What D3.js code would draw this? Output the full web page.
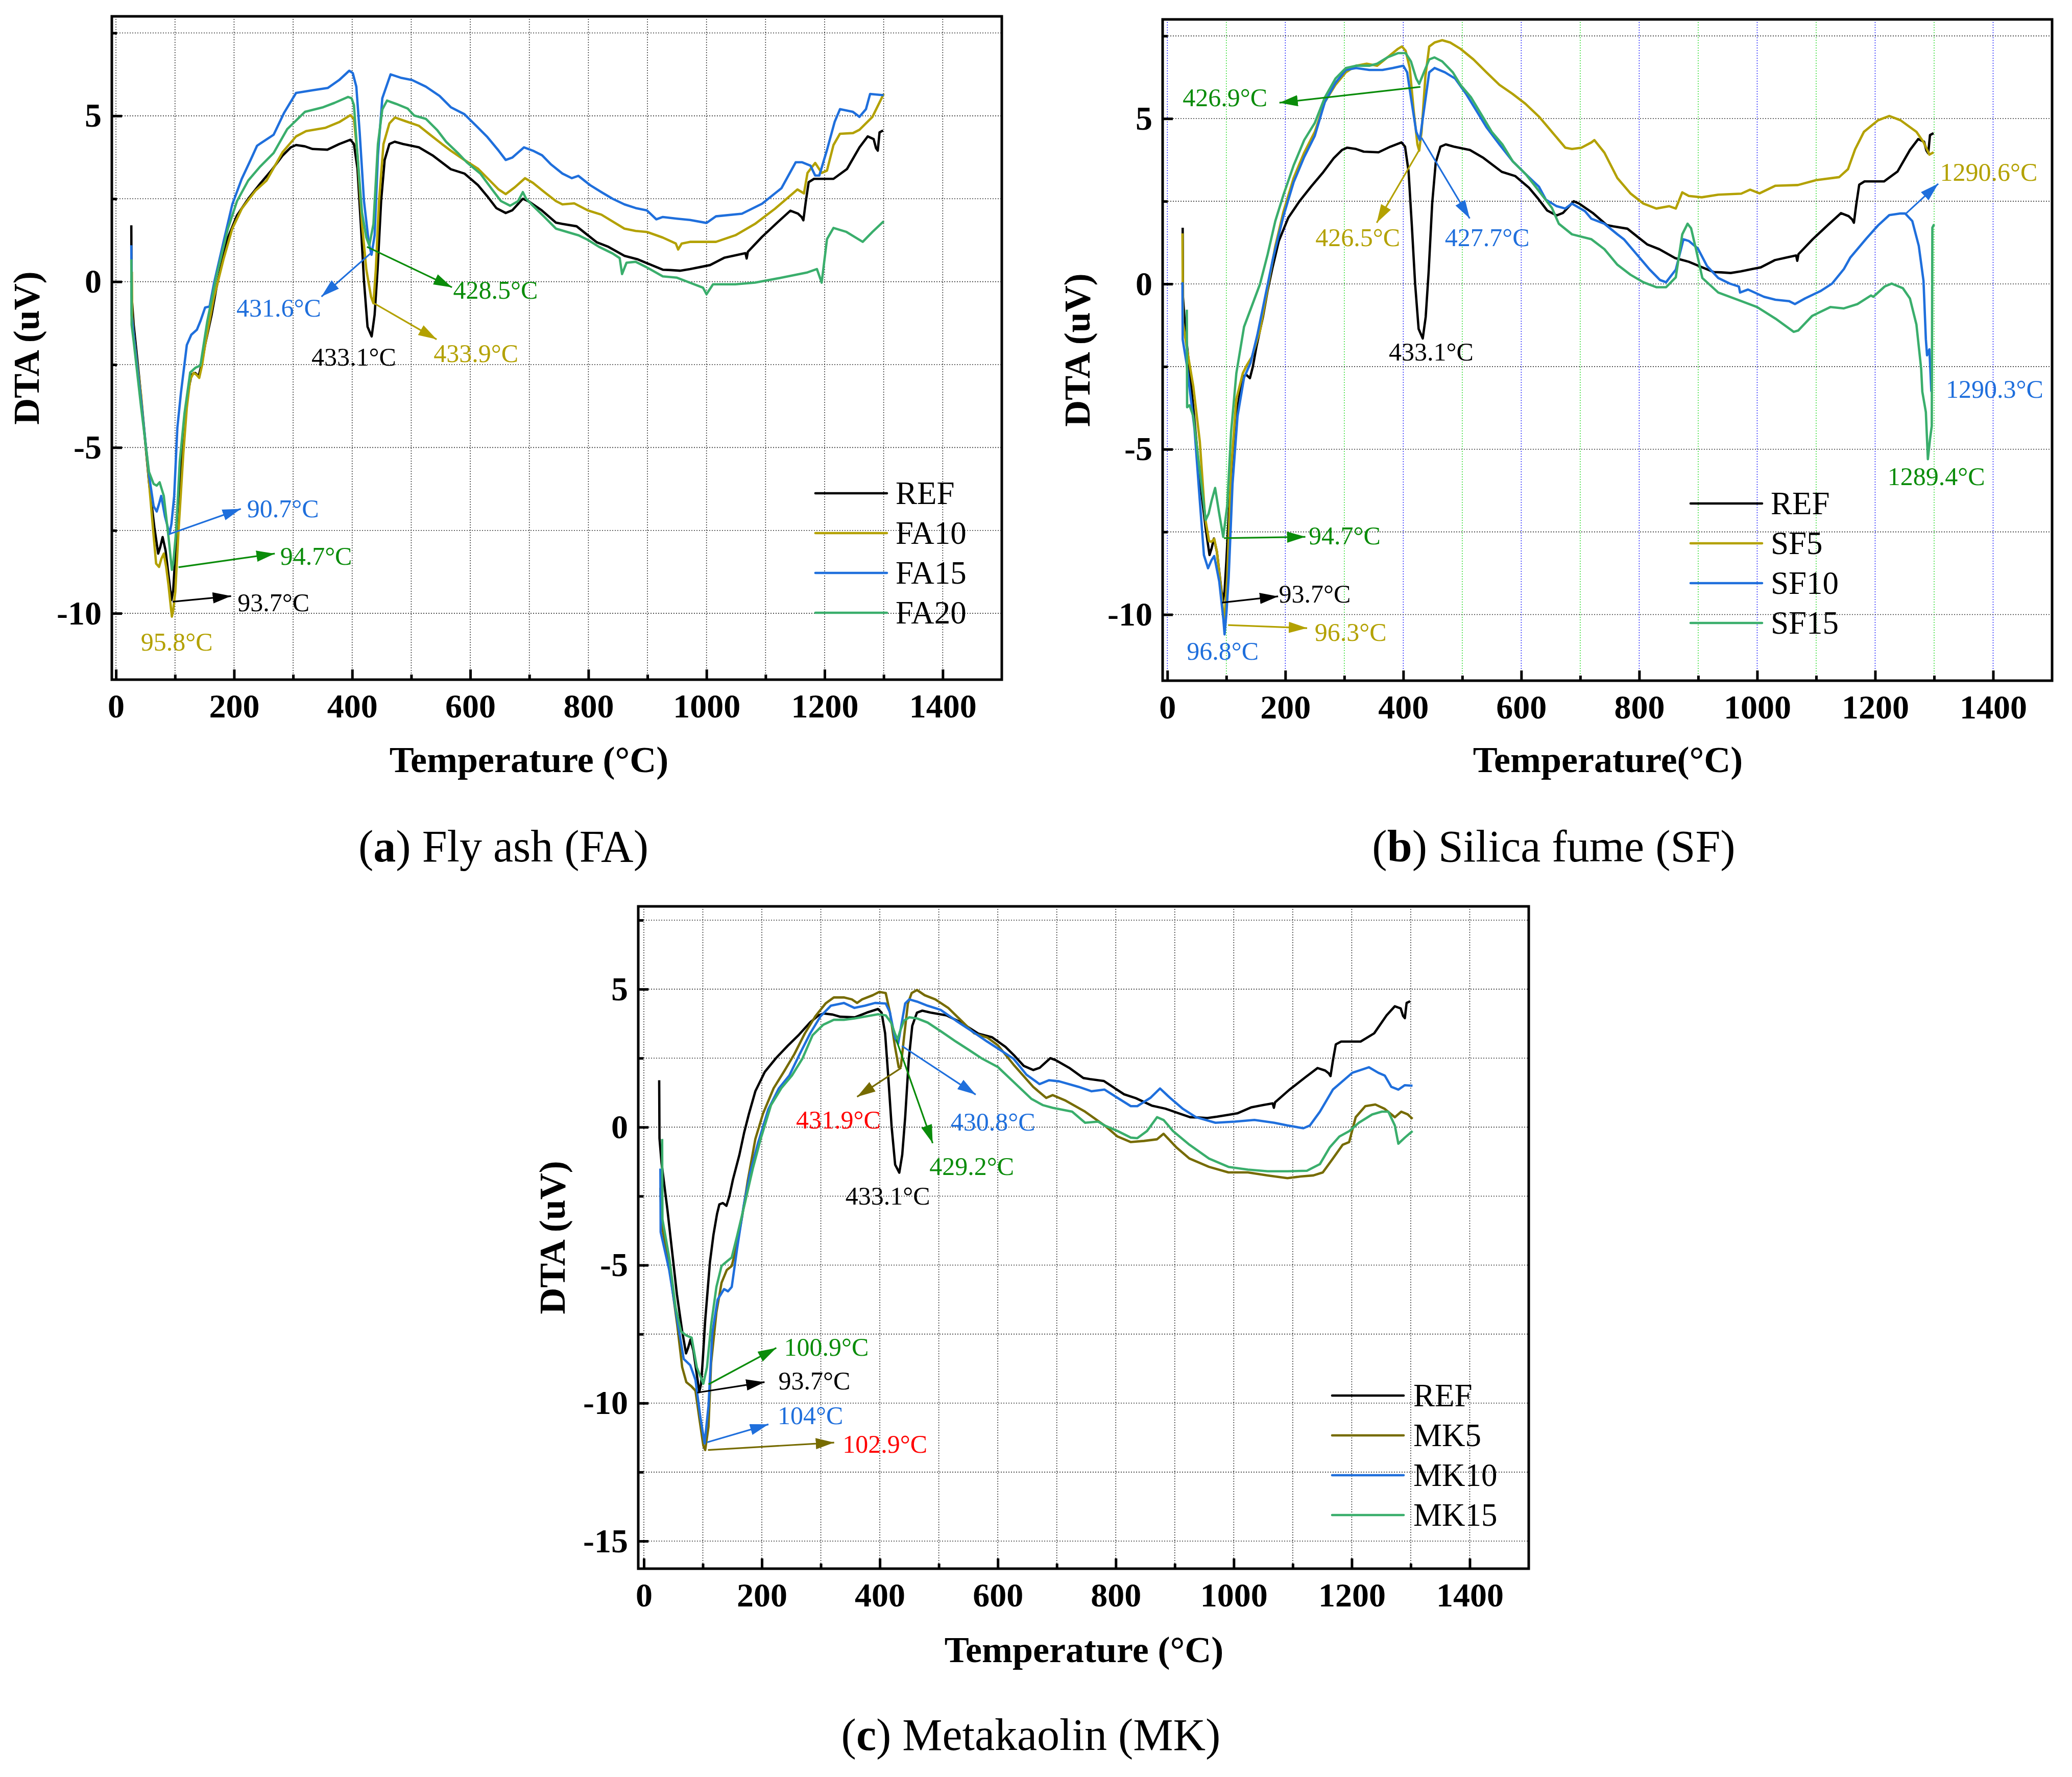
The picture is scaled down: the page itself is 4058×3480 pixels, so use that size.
<!DOCTYPE html>
<html><head><meta charset="utf-8">
<script src="https://cdn.jsdelivr.net/npm/d3@7"></script>
<style>body{margin:0;background:#fff} svg{display:block}</style>
</head><body>
<script>
// ---------------- data ----------------
const xTicks = [0,200,400,600,800,1000,1200,1400];
const xMinorTicks = [100,300,500,700,900,1100,1300];
const yTicksAB = [5,0,-5,-10];
const yTicksC = [5,0,-5,-10,-15];

const REF = [[26,1.7],[26.5,-0.4],[30,-1.3],[40,-3.0],[56,-6.05],[65,-7.4],[71.5,-8.2],[75,-8.0],[79,-7.7],[84,-8.1],[90,-9.0],[94,-9.6],[97,-9.3],[100,-8.4],[104,-7.0],[112,-4.9],[118,-3.9],[124,-3.15],[128,-2.8],[134,-2.75],[140,-2.85],[145,-2.5],[151,-1.9],[162,-1.0],[170,-0.2],[178,0.47],[189,1.3],[205,2.0],[224,2.5],[244,2.95],[263,3.35],[282,3.8],[296,4.05],[305,4.12],[320,4.08],[333,4.0],[358,3.98],[378,4.15],[397,4.28],[403,4.15],[409,3.4],[414.6,1.74],[420,0.02],[426,-1.36],[433,-1.65],[438,-1.0],[443,0.36],[449,2.43],[455,3.67],[463,4.15],[472,4.22],[486,4.15],[513,4.05],[536,3.81],[567,3.39],[590,3.26],[613,2.91],[629,2.57],[644,2.22],[660,2.07],[671,2.15],[689,2.5],[698,2.43],[721,2.15],[745,1.78],[756,1.74],[780,1.67],[799,1.4],[814,1.19],[834,1.05],[861,0.78],[884,0.67],[907,0.5],[926,0.36],[939,0.35],[955,0.33],[972,0.38],[992,0.45],[1006,0.5],[1030,0.72],[1050,0.8],[1066,0.86],[1068,0.7],[1070,0.9],[1094,1.35],[1121,1.8],[1142,2.14],[1155,2.05],[1161,1.95],[1164,1.85],[1168,2.4],[1173,3.0],[1182,3.1],[1215,3.1],[1238,3.4],[1259,4.05],[1273,4.38],[1283,4.3],[1287,4.03],[1290,3.95],[1293,4.5],[1299,4.56]];

const FA10 = [[27,0.3],[27.5,-1.0],[30,-1.6],[42.5,-3.4],[56,-6.05],[63,-7.5],[68,-8.5],[73,-8.6],[77,-8.35],[81,-8.2],[85,-8.6],[89,-9.15],[94.7,-10.1],[97,-9.9],[100.5,-9.35],[106,-7.5],[114,-5.2],[120,-3.8],[125.7,-2.95],[131.5,-2.75],[136,-2.8],[141,-2.9],[146,-2.5],[151,-1.9],[166,-0.47],[182,0.67],[197,1.6],[213,2.2],[236,2.74],[255,3.05],[282,3.9],[305,4.38],[322,4.54],[355,4.64],[378,4.81],[397,5.02],[403,4.91],[409,3.81],[416.6,1.74],[424,0.36],[432,-0.46],[436,-0.65],[440,0.36],[445.5,2.43],[453,4.15],[463,4.77],[472.5,4.95],[490,4.84],[513,4.7],[532,4.43],[552,4.15],[567,3.95],[590,3.67],[613.5,3.4],[633,3.05],[648,2.78],[660,2.64],[675,2.84],[692.7,3.12],[706,2.98],[725.5,2.7],[745,2.43],[756,2.33],[776,2.36],[799,2.15],[822,2.02],[861,1.6],[880,1.53],[899,1.5],[926,1.33],[948,1.15],[952,0.97],[958,1.15],[972,1.2],[1016,1.2],[1049,1.4],[1082,1.74],[1116,2.2],[1154,2.78],[1165,2.66],[1171,3.28],[1184,3.58],[1195,3.28],[1204,3.35],[1215,4.12],[1226,4.46],[1248,4.48],[1259,4.58],[1281,4.97],[1300,5.66]];

const FA15 = [[26,1.1],[26.5,-1.0],[30,-1.6],[42.5,-3.57],[56,-5.84],[63.8,-6.77],[69,-6.93],[73,-6.7],[76.6,-6.46],[83,-7.08],[90.7,-7.6],[94,-7.3],[98.6,-6.46],[104,-4.4],[110,-3.36],[120,-1.91],[127.6,-1.6],[137,-1.45],[143,-1.19],[151,-0.78],[158.5,-0.75],[166,-0.05],[182,1.19],[197,2.33],[213,3.1],[228,3.67],[239,4.1],[267,4.43],[285,5.1],[305,5.69],[333,5.77],[358.6,5.84],[378,6.08],[395,6.36],[401,6.29],[407,5.88],[412.7,4.5],[420,2.43],[428,1.19],[432.8,0.81],[438,1.4],[443.6,3.81],[451,5.53],[465,6.25],[482,6.15],[501.5,6.08],[524.7,5.88],[548,5.6],[567,5.26],[590,5.05],[610,4.7],[629,4.36],[648,3.95],[660,3.67],[671,3.74],[691,4.05],[706,3.95],[721.6,3.81],[737,3.53],[756,3.26],[772,3.12],[783,3.19],[803,2.91],[822,2.7],[841,2.5],[861,2.33],[880,2.22],[899,2.15],[915,1.88],[926,1.95],[950,1.9],[972,1.86],[1000,1.77],[1016,1.97],[1060,2.05],[1094,2.35],[1127,2.82],[1151,3.6],[1162,3.6],[1176,3.5],[1184,3.2],[1191,3.2],[1204,3.97],[1217,4.82],[1226,5.2],[1248,5.12],[1259,4.97],[1270,5.2],[1277,5.66],[1300,5.62]];

const FA20 = [[26,0.67],[26.5,-1.3],[30,-1.8],[42.5,-3.77],[56,-5.74],[63.8,-6.1],[69,-6.15],[74,-6.05],[81,-6.46],[89,-7.7],[94.7,-8.69],[97,-8.5],[102,-7.5],[108,-5.43],[116,-3.98],[125.7,-2.74],[135,-2.59],[143,-2.53],[154.7,-1.19],[170,0.16],[189.6,1.6],[205,2.43],[224,3.05],[243.6,3.46],[267,3.88],[290,4.6],[320,5.12],[351,5.26],[370,5.39],[393,5.57],[399,5.53],[403,5.32],[409,3.81],[416.6,2.09],[424,1.33],[429,1.09],[436,1.74],[443.6,4.15],[451,5.19],[459,5.46],[474.5,5.36],[494,5.22],[505,5.01],[524.7,4.91],[544,4.57],[559,4.22],[579,3.88],[594,3.6],[617,3.26],[637,2.78],[652,2.43],[667.5,2.29],[681,2.43],[689,2.7],[694.6,2.5],[706,2.29],[725.5,1.95],[745,1.6],[764,1.5],[783,1.4],[799,1.26],[818,1.05],[841,0.85],[853,0.71],[857,0.23],[864.5,0.57],[880,0.6],[899,0.43],[926,0.16],[950,0.12],[972,-0.03],[994,-0.18],[1000,-0.38],[1011,-0.08],[1049,-0.08],[1082,-0.03],[1127,0.12],[1171,0.28],[1187,0.38],[1195,-0.03],[1204,1.28],[1215,1.62],[1237,1.5],[1264.5,1.2],[1281,1.5],[1300,1.82]];

const SF5 = [[25.6,1.53],[26.5,-1.17],[33,-1.94],[44,-3.1],[55,-4.76],[64,-7.07],[70.7,-7.78],[75,-7.8],[79.5,-7.71],[84,-8.1],[90.6,-9.13],[96.3,-10.3],[101.6,-8.87],[108,-5.66],[117,-3.48],[128,-2.7],[135,-2.45],[143.6,-2.2],[157,-1.42],[170,-0.14],[183,1.14],[196.6,2.17],[214,3.2],[232,3.97],[250,4.6],[267,5.5],[285,6.02],[302.7,6.4],[320,6.6],[338,6.66],[355.7,6.6],[373,6.85],[391,7.11],[397.7,7.18],[404,7.05],[411,6.53],[417.6,5.25],[424,4.22],[427,4.03],[431,4.6],[437.5,6.28],[444,7.18],[453,7.3],[466,7.37],[479.5,7.3],[497,7.11],[519,6.79],[541,6.4],[563,6.02],[585,5.75],[607,5.45],[630,5.06],[652,4.6],[674.7,4.12],[686,4.08],[702,4.12],[719,4.28],[724,4.35],[741,3.97],[763,3.2],[785,2.74],[807,2.43],[829,2.28],[851,2.35],[862,2.28],[873,2.77],[884,2.66],[906,2.62],[934,2.7],[973,2.73],[988,2.85],[1004,2.74],[1031,2.97],[1069,2.99],[1100,3.14],[1139,3.23],[1154,3.47],[1166,4.07],[1181,4.6],[1205,4.95],[1224,5.08],[1243,4.95],[1270,4.6],[1282,4.29],[1292,3.91],[1299,3.98]];

const SF10 = [[25.6,0.05],[26,-1.68],[33,-2.45],[46,-4.38],[55,-6.55],[62,-8.2],[69,-8.6],[75,-8.35],[79.5,-8.23],[88,-9.0],[95,-10.15],[97,-10.6],[100,-10.0],[104,-8.87],[110.5,-6.05],[119,-4.0],[130,-2.84],[141,-2.39],[152.5,-1.55],[165.7,-0.4],[179,0.76],[196.6,2.04],[214,3.07],[232,3.84],[250,4.48],[267,5.5],[285,6.08],[302.7,6.47],[320,6.53],[342.5,6.47],[364.6,6.47],[382,6.53],[400,6.6],[406.6,6.4],[413,5.64],[422,4.6],[428,4.35],[435,5.25],[444,6.4],[453,6.53],[470.6,6.4],[488,6.21],[506,5.76],[523.6,5.25],[541,4.74],[563,4.22],[585.5,3.71],[607.6,3.32],[630,2.94],[641.7,2.55],[660,2.35],[674.7,2.28],[686,2.43],[708,2.2],[719,1.97],[741,1.82],[763,1.5],[774,1.35],[796,0.89],[818,0.43],[835,0.12],[845.6,0.05],[862,0.43],[875,1.35],[884,1.3],[899.5,1.07],[915,0.54],[934,0.18],[953.5,0.01],[969,-0.08],[971,-0.26],[984.5,-0.17],[1011.5,-0.39],[1031,-0.48],[1054,-0.52],[1064,-0.61],[1081,-0.44],[1108,-0.21],[1127,0.01],[1147,0.45],[1158,0.8],[1185,1.37],[1205,1.77],[1224,2.08],[1243,2.13],[1251,2.13],[1263,1.9],[1274,1.15],[1282,0.09],[1286,-1.67],[1288,-2.16],[1292,-1.98],[1295.3,-3.26]];

const SF15 = [[33,-0.78],[33.5,-3.73],[37.6,-3.67],[44,-4.0],[55,-5.66],[65,-7.14],[70,-6.95],[75,-6.56],[81,-6.17],[88,-6.95],[94.7,-7.65],[101.6,-6.69],[108,-4.5],[117,-2.7],[130,-1.3],[143.6,-0.65],[157,-0.01],[170,0.89],[183,1.9],[196.6,2.68],[214,3.58],[232,4.35],[250,4.87],[267,5.64],[285,6.21],[302.7,6.53],[320,6.6],[342.5,6.6],[355.7,6.66],[373,6.85],[391,6.98],[404,6.98],[413,6.73],[422,6.21],[427,6.05],[435,6.4],[444,6.79],[453,6.85],[466,6.73],[484,6.4],[497,6.02],[515,5.64],[532.5,5.12],[550,4.6],[568,4.22],[585.5,3.71],[607.6,3.32],[630,2.81],[652,2.3],[663.7,1.82],[686,1.5],[719,1.35],[741,1.05],[763,0.58],[785,0.28],[807,0.05],[829,-0.1],[845.6,-0.1],[862,0.2],[873,1.5],[882,1.82],[888,1.68],[896,1.07],[907,0.18],[934,-0.26],[973,-0.52],[1000,-0.7],[1031,-1.05],[1062,-1.45],[1069.5,-1.41],[1093,-0.97],[1124,-0.7],[1147,-0.74],[1170,-0.61],[1193,-0.35],[1197,-0.39],[1216,-0.08],[1228,0.01],[1247,-0.13],[1259,-0.44],[1270,-1.23],[1278,-2.56],[1280,-3.26],[1286,-3.88],[1289.4,-5.3],[1293,-4.7],[1296,-4.3],[1297,1.7],[1300,1.8]];

const MK5 = [[28,-2.2],[30,-3.5],[43,-5.03],[56.6,-7.17],[65,-8.7],[72,-9.24],[81,-9.4],[87.5,-9.55],[94,-10.54],[100.8,-11.54],[104,-11.7],[109.6,-10.85],[114,-8.55],[123,-6.71],[131.7,-5.64],[140.5,-5.18],[149,-5.03],[158,-4.26],[167,-3.19],[176,-1.96],[189,-0.43],[202,0.49],[220,1.41],[237.7,2.02],[255,2.64],[273,3.4],[290.8,4.02],[308,4.48],[322,4.7],[339,4.7],[352.6,4.63],[361.5,4.5],[370,4.63],[388,4.78],[399,4.9],[410,4.86],[417,4.17],[425.5,2.94],[432,2.17],[435.7,2.2],[441,3.25],[447.6,4.48],[454,4.86],[463,4.97],[476,4.78],[494,4.63],[516,4.32],[538,3.86],[560,3.4],[582,3.25],[600,2.97],[626.5,2.27],[660,1.46],[682,1.06],[693,1.16],[715,0.96],[748,0.56],[781,0.06],[803,-0.34],[825.5,-0.54],[847.6,-0.5],[870,-0.44],[881,-0.24],[903,-0.74],[925,-1.14],[958,-1.44],[991,-1.64],[1024,-1.64],[1057.5,-1.75],[1091,-1.85],[1113,-1.79],[1135,-1.75],[1151,-1.64],[1168,-1.14],[1184.6,-0.64],[1195.6,-0.54],[1206.7,0.36],[1223,0.76],[1240,0.82],[1256,0.66],[1273,0.36],[1284,0.56],[1295,0.46],[1303,0.3]];

const MK10 = [[28,-1.5],[28.5,-3.8],[43,-5.18],[56.6,-7.0],[67.6,-8.4],[78.7,-8.63],[87.5,-9.16],[96,-10.54],[103,-11.46],[109.6,-10.1],[116,-7.48],[125,-6.25],[136,-5.87],[142.7,-5.95],[149,-5.79],[158,-4.41],[169,-2.88],[180,-1.66],[193.5,-0.58],[211,0.65],[229,1.41],[246.6,1.87],[264,2.64],[282,3.4],[299.6,4.02],[317,4.4],[339,4.5],[357,4.32],[374.7,4.4],[392,4.5],[410,4.48],[417,4.17],[425.5,3.25],[431,3.02],[436.6,3.71],[443,4.48],[450,4.63],[463,4.55],[481,4.4],[503,4.25],[529,3.86],[556,3.48],[582,3.1],[604.5,2.79],[626.6,2.48],[648.6,1.9],[670.7,1.56],[687,1.7],[704,1.66],[737,1.46],[759,1.3],[781,1.36],[803,1.06],[825.5,0.76],[836.5,0.76],[858.6,1.06],[875,1.4],[892,1.06],[914,0.66],[936,0.36],[969,0.16],[1002,0.2],[1035,0.26],[1068.5,0.16],[1091,0.06],[1118,-0.04],[1129,0.06],[1146,0.56],[1168,1.36],[1201,1.97],[1229,2.17],[1245,1.97],[1256,1.87],[1267,1.46],[1279,1.36],[1290,1.52],[1303,1.5]];

const MK15 = [[31,-0.43],[31.5,-3.34],[43,-4.72],[54,-6.56],[63,-7.4],[72,-7.55],[81,-7.63],[89.7,-8.7],[100.8,-9.3],[107,-8.7],[114,-7.17],[123,-5.79],[131.7,-5.03],[140.5,-4.87],[149,-4.72],[158,-3.95],[171.5,-2.73],[184.7,-1.5],[198,-0.43],[215.6,0.8],[233,1.41],[251,1.87],[268.7,2.48],[286,3.33],[304,3.71],[322,3.89],[339,3.89],[357,3.94],[379,4.02],[397,4.09],[410,4.05],[419,3.79],[425.5,3.4],[430,3.17],[434.4,3.48],[441,3.86],[450,3.98],[463,3.94],[481,3.79],[503,3.48],[529,3.1],[551.5,2.79],[573.6,2.48],[600,2.18],[626.6,1.64],[656.7,1.03],[676,0.8],[693,0.7],[726,0.56],[748,0.16],[770,0.2],[781,0.06],[803,-0.14],[825.5,-0.38],[836.5,-0.4],[853,-0.14],[870,0.36],[881,0.26],[897,-0.14],[925,-0.64],[958,-1.14],[991,-1.44],[1024,-1.54],[1057.5,-1.6],[1091,-1.6],[1124,-1.58],[1146,-1.34],[1162.5,-0.74],[1179,-0.34],[1196,-0.14],[1212,0.16],[1234.6,0.46],[1251,0.56],[1262,0.56],[1273,0.06],[1279,-0.6],[1290,-0.38],[1303,-0.14]];

// peak annotations: label, anchor point (from), arrow end (to), label position (at), all in data units
const annA = [
  {label:"431.6°C", tc:"blue", ac:"blue", from:[431,0.85], to:[348,-0.45], at:[204,-1.05]},
  {label:"428.5°C", tc:"dgreen", ac:"dgreen", from:[425,1.05], to:[569,-0.17], at:[571,-0.52]},
  {label:"433.1°C", tc:"black", at:[331,-2.53]},
  {label:"433.9°C", tc:"olive", ac:"olive", from:[435,-0.63], to:[543,-1.74], at:[538,-2.43]},
  {label:"90.7°C", tc:"blue", ac:"blue", from:[89,-7.62], to:[211.5,-6.85], at:[222,-7.1]},
  {label:"94.7°C", tc:"dgreen", ac:"dgreen", from:[106,-8.61], to:[269,-8.2], at:[278,-8.53]},
  {label:"93.7°C", tc:"black", ac:"black", from:[96,-9.65], to:[195,-9.48], at:[206,-9.93]},
  {label:"95.8°C", tc:"olive", at:[42,-11.12]}
];
const annB = [
  {label:"426.9°C", tc:"dgreen", ac:"dgreen", from:[429,5.96], to:[190,5.48], at:[26,5.38]},
  {label:"426.5°C", tc:"olive", ac:"olive", from:[426.4,4.03], to:[355,1.85], at:[251,1.14]},
  {label:"427.7°C", tc:"blue", ac:"blue", from:[431,4.42], to:[512.6,1.98], at:[470.6,1.14]},
  {label:"433.1°C", tc:"black", at:[375.6,-2.32]},
  {label:"94.7°C", tc:"dgreen", ac:"dgreen", from:[96,-7.69], to:[234,-7.65], at:[239.5,-7.87]},
  {label:"93.7°C", tc:"black", ac:"black", from:[92.8,-9.64], to:[187.8,-9.45], at:[189,-9.64]},
  {label:"96.3°C", tc:"olive", ac:"olive", from:[103,-10.32], to:[237,-10.41], at:[249.7,-10.8]},
  {label:"96.8°C", tc:"blue", at:[33,-11.37]},
  {label:"1290.6°C", tc:"olive", at:[1310,3.12]},
  {label:"", ac:"blue", from:[1253,2.14], to:[1307,3.03]},
  {label:"1290.3°C", tc:"blue", at:[1320,-3.44]},
  {label:"1289.4°C", tc:"dgreen", at:[1221,-6.09]}
];
const annC = [
  {label:"431.9°C", tc:"red", ac:"dolive", from:[436.6,2.15], to:[361.5,1.1], at:[258,-0.05]},
  {label:"430.8°C", tc:"blue", ac:"blue", from:[437.5,2.94], to:[562.5,1.18], at:[520,-0.13]},
  {label:"429.2°C", tc:"dgreen", ac:"dgreen", from:[427.8,3.17], to:[489.6,-0.58], at:[484,-1.73]},
  {label:"433.1°C", tc:"black", at:[341.6,-2.8]},
  {label:"100.9°C", tc:"dgreen", ac:"dgreen", from:[109.6,-9.32], to:[224.5,-8.0], at:[237.7,-8.28]},
  {label:"93.7°C", tc:"black", ac:"black", from:[90.6,-9.62], to:[204.6,-9.24], at:[228,-9.5]},
  {label:"104°C", tc:"blue", ac:"blue", from:[107.4,-11.42], to:[211.2,-10.77], at:[226.7,-10.77]},
  {label:"102.9°C", tc:"red", ac:"dolive", from:[108.7,-11.7], to:[322.6,-11.43], at:[337,-11.8]}
];

// ---------------- styles ----------------
const COL = {black:"#000000", olive:"#b3a100", dolive:"#766b00", blue:"#1f6fdc", green:"#3aae6c", dgreen:"#0a8c0a", red:"#ff0000"};
const FONT = "'Liberation Serif','Times New Roman',serif";

const panels = [
  {l:219, r:1962, t:32, b:1331, xDom:[-7,1500], yDom:[-12,8], yTicks:yTicksAB, grid:"plain",
   series:[{n:"REF",d:REF,c:"black"},{n:"FA10",d:FA10,c:"olive"},{n:"FA15",d:FA15,c:"blue"},{n:"FA20",d:FA20,c:"green"}],
   leg:{x1:1597,x2:1737,y0:966,tx:1754}, ann:annA,
   xt:"Temperature (°C)", xtX:1036, xtY:1512, ytX:76, cap:["a"," Fly ash (FA)"], capX:986, capY:1687},
  {l:2277, r:4019, t:38, b:1333, xDom:[-8,1500], yDom:[-12,8], yTicks:yTicksAB, grid:"color",
   series:[{n:"REF",d:REF,c:"black"},{n:"SF5",d:SF5,c:"olive"},{n:"SF10",d:SF10,c:"blue"},{n:"SF15",d:SF15,c:"green"}],
   leg:{x1:3311,x2:3451,y0:986,tx:3468}, ann:annB,
   xt:"Temperature(°C)", xtX:3149, xtY:1512, ytX:2134, cap:["b"," Silica fume (SF)"], capX:3043, capY:1687},
  {l:1250, r:2994, t:1775, b:3072, xDom:[-9.5,1500], yDom:[-16,8], yTicks:yTicksC, grid:"plain",
   series:[{n:"REF",d:REF,c:"black"},{n:"MK5",d:MK5,c:"dolive"},{n:"MK10",d:MK10,c:"blue"},{n:"MK15",d:MK15,c:"green"}],
   leg:{x1:2609,x2:2749,y0:2733,tx:2768}, ann:annC,
   xt:"Temperature (°C)", xtX:2123, xtY:3255, ytX:1106, cap:["c"," Metakaolin (MK)"], capX:2019, capY:3427}
];

const W = 4058, H = 3480;
const svg = d3.select("body").append("svg").attr("width", W).attr("height", H)
  .attr("font-family", FONT);
svg.append("rect").attr("width", W).attr("height", H).attr("fill", "#fff");

const defs = svg.append("defs");
Object.entries(COL).forEach(([k, v]) => {
  defs.append("marker").attr("id", "arr-" + k)
    .attr("markerUnits", "userSpaceOnUse")
    .attr("markerWidth", 38).attr("markerHeight", 22)
    .attr("refX", 36).attr("refY", 11).attr("orient", "auto")
    .append("path").attr("d", "M0,0 L36,11 L0,22 Z").attr("fill", v);
});

panels.forEach((p, i) => {
  const g = svg.append("g");
  const x = d3.scaleLinear().domain(p.xDom).range([p.l, p.r]);
  const y = d3.scaleLinear().domain(p.yDom).range([p.b, p.t]);

  // grid
  const grid = g.append("g");
  d3.range(0, 1401, 100).forEach(v => {
    let color = "#333";
    if (p.grid === "color") color = (v % 200 === 0) ? "#2a2aff" : "#33dd33";
    grid.append("line").attr("x1", x(v)).attr("x2", x(v)).attr("y1", p.t).attr("y2", p.b)
      .attr("stroke", color).attr("stroke-width", 1.6).attr("stroke-dasharray", "2,3");
  });
  const yStart = Math.ceil(p.yDom[0] / 2.5) * 2.5;
  d3.range(yStart, p.yDom[1], 2.5).forEach(v => {
    if (v <= p.yDom[0]) return;
    grid.append("line").attr("x1", p.l).attr("x2", p.r).attr("y1", y(v)).attr("y2", y(v))
      .attr("stroke", "#333").attr("stroke-width", 1.6).attr("stroke-dasharray", "2,3");
  });

  // clip
  defs.append("clipPath").attr("id", "clip" + i).append("rect")
    .attr("x", p.l).attr("y", p.t).attr("width", p.r - p.l).attr("height", p.b - p.t);

  const line = d3.line().x(d => x(d[0])).y(d => y(d[1]));
  const lg = g.append("g").attr("clip-path", `url(#clip${i})`);
  p.series.forEach(s => {
    lg.append("path").datum(s.d).attr("d", line).attr("fill", "none")
      .attr("stroke", COL[s.c]).attr("stroke-width", 4.6).attr("stroke-linejoin", "round");
  });

  // annotations
  p.ann.forEach(a => {
    if (a.from) {
      g.append("line").attr("x1", x(a.from[0])).attr("y1", y(a.from[1]))
        .attr("x2", x(a.to[0])).attr("y2", y(a.to[1]))
        .attr("stroke", COL[a.ac]).attr("stroke-width", 3.2)
        .attr("marker-end", `url(#arr-${a.ac})`);
    }
    if (a.label) {
      g.append("text").attr("x", x(a.at[0])).attr("y", y(a.at[1]))
        .attr("font-size", 50).attr("fill", COL[a.tc]).text(a.label);
    }
  });

  // axes
  const fmt = d => String(d);
  const ax = g.append("g").attr("transform", `translate(0,${p.b})`)
    .call(d3.axisBottom(x).tickValues(xTicks).tickSize(-20).tickPadding(27).tickFormat(fmt));
  const axm = g.append("g").attr("transform", `translate(0,${p.b})`)
    .call(d3.axisBottom(x).tickValues(xMinorTicks).tickSize(-10).tickFormat(""));
  const minorY = d3.range(Math.ceil(p.yDom[0] / 2.5) * 2.5, p.yDom[1], 2.5).filter(v => v % 5 !== 0 && v > p.yDom[0]);
  const ay = g.append("g").attr("transform", `translate(${p.l},0)`)
    .call(d3.axisLeft(y).tickValues(p.yTicks).tickSize(-20).tickPadding(20).tickFormat(fmt));
  const aym = g.append("g").attr("transform", `translate(${p.l},0)`)
    .call(d3.axisLeft(y).tickValues(minorY).tickSize(-10).tickFormat(""));
  [ax, axm, ay, aym].forEach(a => {
    a.select(".domain").remove();
    a.selectAll("line").attr("stroke", "#000").attr("stroke-width", 5);
    a.selectAll("text").attr("font-family", FONT).attr("font-size", 66)
      .attr("font-weight", "bold").attr("fill", "#000");
  });

  // frame
  g.append("rect").attr("x", p.l).attr("y", p.t).attr("width", p.r - p.l).attr("height", p.b - p.t)
    .attr("fill", "none").attr("stroke", "#000").attr("stroke-width", 5);

  // legend
  p.series.forEach((s, k) => {
    const ly = p.leg.y0 + k * 78;
    g.append("line").attr("x1", p.leg.x1).attr("x2", p.leg.x2).attr("y1", ly).attr("y2", ly)
      .attr("stroke", COL[s.c]).attr("stroke-width", 4.6).attr("stroke-linecap", "round");
    g.append("text").attr("x", p.leg.tx).attr("y", ly + 21).attr("font-size", 63)
      .attr("fill", "#000").text(s.n);
  });

  // titles
  g.append("text").attr("x", p.xtX).attr("y", p.xtY).attr("text-anchor", "middle")
    .attr("font-size", 72).attr("font-weight", "bold").text(p.xt);
  g.append("text").attr("transform", `translate(${p.ytX},${(p.t + p.b) / 2}) rotate(-90)`)
    .attr("text-anchor", "middle").attr("font-size", 72).attr("font-weight", "bold").text("DTA (uV)");

  // caption
  const cap = g.append("text").attr("x", p.capX).attr("y", p.capY).attr("text-anchor", "middle")
    .attr("font-size", 88).attr("fill", "#000");
  cap.append("tspan").text("(");
  cap.append("tspan").attr("font-weight", "bold").text(p.cap[0]);
  cap.append("tspan").text(")" + p.cap[1]);
});
</script>
</body></html>
